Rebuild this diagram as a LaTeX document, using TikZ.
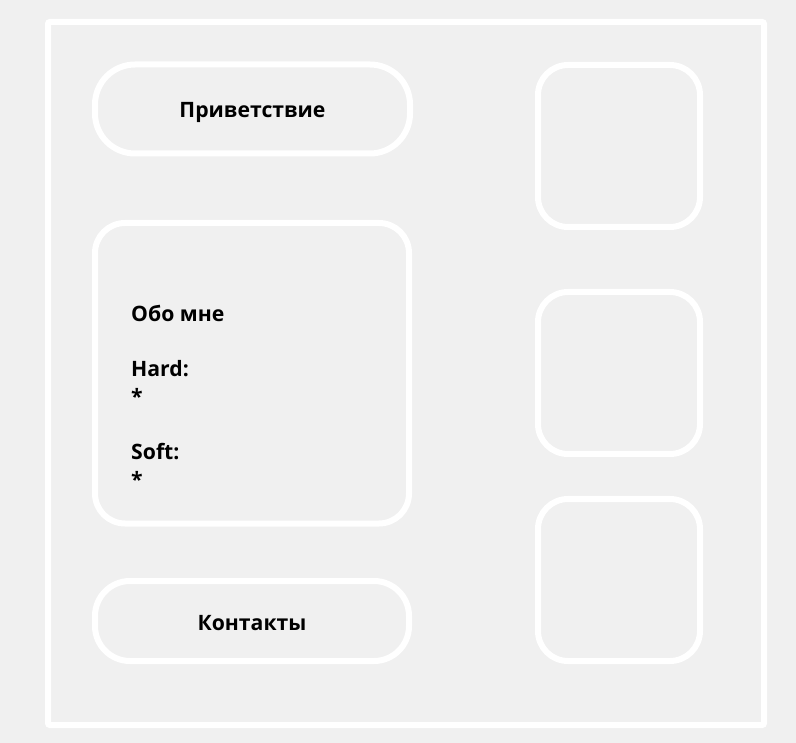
\documentclass[tikz,border=0pt]{standalone}
\usepackage{fontspec}
\setmainfont{Open Sans}
\usepackage{xcolor}
\usetikzlibrary{positioning}
\definecolor{pagegray}{HTML}{F0F0F0}

\tikzset{
    card/.style={draw=white, line width=6pt, rounded corners=#1, inner sep=0pt},
    card/.default=30pt,
    caption/.style={font=\bfseries\fontsize{21.2}{27.7}\selectfont, text=black, inner sep=0pt}
}

\begin{document}
\begin{tikzpicture}[x=1pt, y=-1pt]
    % Page
    \fill[pagegray] (0,0) rectangle (796,743);
    \useasboundingbox (0,0) rectangle (796,743);
    \node[card=2pt, minimum width=716pt, minimum height=703pt] (frame) at (406,373.5) {};

    % Left column
    \node[card=40pt, minimum width=315pt, minimum height=89pt] (greeting) at (252.5,109) {};
    \node[caption, anchor=base, yshift=-8.3pt] (greetingtext) at (greeting.center) {Приветствие};

    \node[card=30pt, minimum width=314pt, minimum height=300.5pt] (about) at (252,373.25) {};
    \node[caption, anchor=base west, align=left] (abouttext) at (131,487.2) {Обо мне\\[27.7pt]Hard:\\*\\[27.7pt]Soft:\\*};

    \node[card=35pt, minimum width=314pt, minimum height=80pt] (contacts) at (252,621) {};
    \node[caption, anchor=base, yshift=-9pt] (contactstext) at (contacts.center) {Контакты};

    % Right column
    \foreach \name/\y in {tileA/146, tileB/373, tileC/580}
        \node[card=30pt, minimum width=162pt, minimum height=162pt] (\name) at (619,\y) {};
\end{tikzpicture}
\end{document}
